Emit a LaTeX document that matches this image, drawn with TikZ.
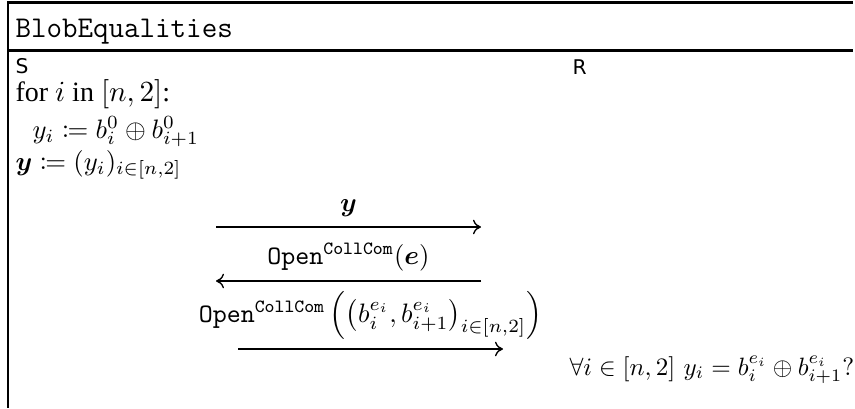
\documentclass[tikz,border=0pt]{standalone}
\usepackage{amsmath,mathtools,bm}
\usepackage{fontspec}
\newfontfamily\sansS{DejaVu Sans}
\newfontfamily\timesF{Liberation Serif}
\usetikzlibrary{arrows.meta}
\begin{document}
\begin{tikzpicture}[x=0.375pt,y=-0.375pt,
  txt/.style={inner sep=0pt,anchor=base west},
  lbl/.style={inner sep=0pt,anchor=base},
  frameline/.style={line width=0.95pt},
  msg/.style={line width=0.5pt,-{To[length=3pt,width=5.5pt]}},
  party/.style={txt,font=\fontsize{7.6}{9}\sansS}]
\useasboundingbox (0,0) rectangle (855,408);
\coordinate (tl) at (8,2.5); \coordinate (tr) at (853,2.5);
\coordinate (hl) at (8,50.5); \coordinate (hr) at (853,50.5);
\coordinate (bl) at (8,408);
\draw[frameline] (tr) -- (tl) -- (bl);
\draw[frameline] (hl) -- (hr);
\node[txt,font=\fontsize{11.3}{13}\ttfamily] (title) at (15,37) {BlobEqualities};
\node[party] (S) at (15,73) {S};
\node[party] (R) at (572,74) {R};
\node[txt] (l1) at (15,101) {\timesF\fontsize{10.5}{12}\selectfont for $i$ in $[n,2]$:};
\node[txt] (l2) at (32,138) {$y_i \coloneqq b_i^0 \oplus b_{i+1}^0$};
\node[txt] (l3) at (15,170) {$\bm{y} \coloneqq (y_i)_{i\in[n,2]}$};
% message 1
\coordinate (m1s) at (216,227); \coordinate (m1e) at (481,227);
\draw[msg] (m1s) -- (m1e);
\node[lbl] (y) at (348.5,211) {$\bm{y}$};
% message 2
\coordinate (m2s) at (481,281); \coordinate (m2e) at (216,281);
\draw[msg] (m2s) -- (m2e);
\node[lbl] (open1) at (348.5,264) {$\texttt{Open}^{\texttt{CollCom}}(\bm{e})$};
% message 3
\coordinate (m3s) at (238,349); \coordinate (m3e) at (503,349);
\draw[msg] (m3s) -- (m3e);
\node[lbl] (open2) at (370.5,322) {$\texttt{Open}^{\texttt{CollCom}}\left(\left(b_i^{e_i}, b_{i+1}^{e_i}\right)_{i\in[n,2]}\right)$};
% check
\node[txt,scale=0.94,transform shape] (chk) at (569,375) {$\forall i\in[n,2]\ y_i = b_i^{e_i}\oplus b_{i+1}^{e_i}?$};
\end{tikzpicture}
\end{document}
